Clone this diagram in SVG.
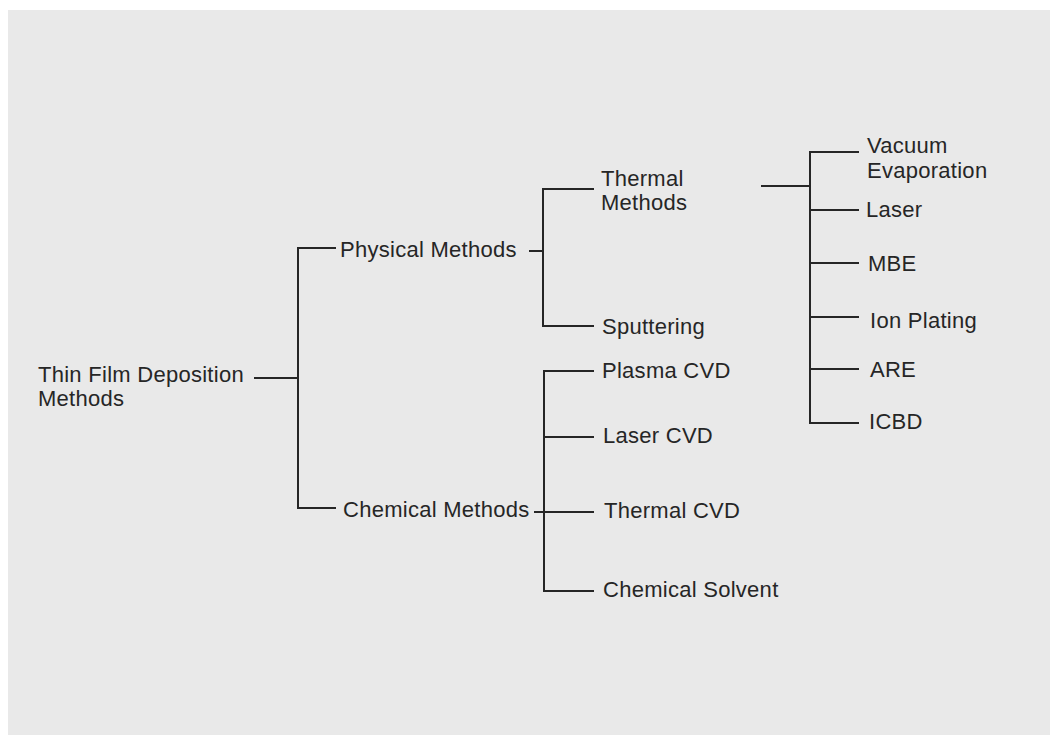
<svg xmlns="http://www.w3.org/2000/svg" width="1050" height="735" viewBox="0 0 1050 735">
<style>
  text { font-family: "Liberation Sans", Arial, sans-serif; font-size: 22px; letter-spacing: 0.27px; fill: #262626; }
  .c line { stroke: #262626; stroke-width: 2; stroke-linecap: square; }
</style>
<rect x="0" y="0" width="1050" height="735" fill="#ffffff"/>
<rect x="8" y="10" width="1042" height="725" fill="#e9e9e9"/>
<g class="c" id="connectors">
  <line x1="255" y1="378" x2="298" y2="378"/>
  <line x1="298" y1="248" x2="298" y2="508"/>
  <line x1="298" y1="248" x2="335" y2="248"/>
  <line x1="298" y1="508" x2="335" y2="508"/>
  <line x1="530" y1="251" x2="543" y2="251"/>
  <line x1="543" y1="189" x2="543" y2="326"/>
  <line x1="543" y1="189" x2="593" y2="189"/>
  <line x1="543" y1="326" x2="593" y2="326"/>
  <line x1="535" y1="512" x2="593" y2="512"/>
  <line x1="544" y1="371" x2="544" y2="591"/>
  <line x1="544" y1="371" x2="593" y2="371"/>
  <line x1="544" y1="437" x2="593" y2="437"/>
  <line x1="544" y1="591" x2="593" y2="591"/>
  <line x1="762" y1="186" x2="810" y2="186"/>
  <line x1="810" y1="152" x2="810" y2="423"/>
  <line x1="810" y1="152" x2="858" y2="152"/>
  <line x1="810" y1="210" x2="858" y2="210"/>
  <line x1="810" y1="263" x2="858" y2="263"/>
  <line x1="810" y1="317" x2="858" y2="317"/>
  <line x1="810" y1="369" x2="858" y2="369"/>
  <line x1="810" y1="423" x2="858" y2="423"/>
</g>
<g id="root"><text x="38" y="382">Thin Film Deposition</text><text x="38" y="406">Methods</text></g>
<g id="physical"><text x="340" y="257">Physical Methods</text></g>
<g id="chemical"><text x="343" y="517">Chemical Methods</text></g>
<g id="thermal"><text x="601" y="186">Thermal</text><text x="601" y="210">Methods</text></g>
<g id="sputtering"><text x="602" y="334">Sputtering</text></g>
<g id="plasma-cvd"><text x="602" y="378">Plasma CVD</text></g>
<g id="laser-cvd"><text x="603" y="443">Laser CVD</text></g>
<g id="thermal-cvd"><text x="604" y="518">Thermal CVD</text></g>
<g id="chemical-solvent"><text x="603" y="597">Chemical Solvent</text></g>
<g id="vacuum"><text x="867" y="153">Vacuum</text><text x="867" y="178">Evaporation</text></g>
<g id="laser"><text x="866" y="217">Laser</text></g>
<g id="mbe"><text x="868" y="271">MBE</text></g>
<g id="ion-plating"><text x="870" y="328">Ion Plating</text></g>
<g id="are"><text x="870" y="377">ARE</text></g>
<g id="icbd"><text x="869" y="429">ICBD</text></g>
</svg>
